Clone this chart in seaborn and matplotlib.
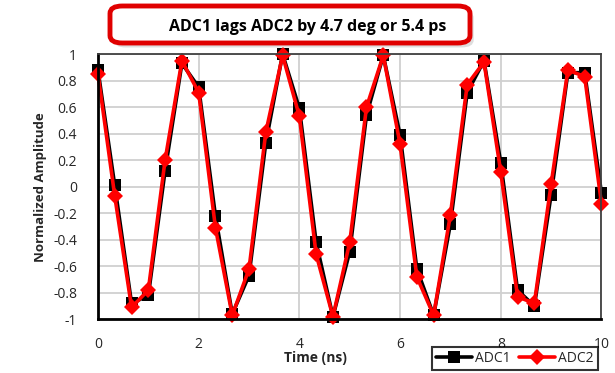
#!/usr/bin/env python3
"""Two-channel ADC sample comparison plot"""

import numpy as np
import pandas as pd
import matplotlib
matplotlib.use("Agg")
import matplotlib.pyplot as plt
from matplotlib.lines import Line2D
from matplotlib.patches import FancyBboxPatch
import seaborn as sns

# Sample times (ns), ~3 GS/s
time_ns = [0.0, 0.333, 0.667, 1.0, 1.333, 1.667, 2.0, 2.333, 2.667, 3.0,
           3.333, 3.667, 4.0, 4.333, 4.667, 5.0, 5.333, 5.667, 6.0, 6.333,
           6.667, 7.0, 7.333, 7.667, 8.0, 8.333, 8.667, 9.0, 9.333, 9.667, 10.0]

adc1 = [0.88, 0.01, -0.88, -0.82, 0.12, 0.93, 0.75, -0.22, -0.96, -0.67,
        0.33, 1.0, 0.59, -0.42, -0.98, -0.49, 0.54, 0.99, 0.39, -0.62,
        -0.97, -0.28, 0.71, 0.95, 0.18, -0.78, -0.90, -0.06, 0.86, 0.86, -0.05]

adc2 = [0.85, -0.07, -0.91, -0.78, 0.20, 0.95, 0.71, -0.31, -0.97, -0.62,
        0.41, 0.99, 0.53, -0.51, -0.98, -0.42, 0.60, 0.99, 0.32, -0.68,
        -0.97, -0.21, 0.77, 0.94, 0.11, -0.83, -0.88, 0.02, 0.88, 0.83, -0.13]

series_names = ["ADC1", "ADC2"]
series_colors = {"ADC1": "black", "ADC2": "#ff0000"}
series_markers = {"ADC1": "s", "ADC2": "D"}
series_msize = {"ADC1": 9, "ADC2": 8}

x_ticks = [0, 2, 4, 6, 8, 10]
y_ticks = [-1, -0.8, -0.6, -0.4, -0.2, 0, 0.2, 0.4, 0.6, 0.8, 1]
y_ticklabels = ["-1", "-0.8", "-0.6", "-0.4", "-0.2", "0",
                "0.2", "0.4", "0.6", "0.8", "1"]

title_text = "ADC1 lags ADC2 by 4.7 deg or 5.4 ps"

sns.set_style("white")
plt.rcParams["font.family"] = ["Open Sans", "DejaVu Sans"]

df = pd.DataFrame({
    "time": time_ns * 2,
    "amp": adc1 + adc2,
    "adc": ["ADC1"] * len(adc1) + ["ADC2"] * len(adc2),
})

fig = plt.figure(figsize=(6.15, 3.73), dpi=100)
ax = fig.add_axes([0.1593, 0.144, 0.8187, 0.711])

sns.lineplot(data=df, x="time", y="amp", hue="adc", style="adc",
             hue_order=series_names, style_order=series_names,
             palette=series_colors, markers=series_markers, dashes=False,
             linewidth=2.6, markersize=9, markeredgewidth=0,
             legend=False, ax=ax)

# diamonds a touch smaller than the squares, and let markers spill over the frame
for line in ax.get_lines():
    if line.get_marker() == "D":
        line.set_markersize(series_msize["ADC2"])
    line.set_solid_joinstyle("miter")
    line.set_clip_on(False)

ax.set_xlim(0, 10)
ax.set_ylim(-1, 1)
ax.set_xticks(x_ticks)
ax.set_yticks(y_ticks)
ax.set_yticklabels(y_ticklabels)
ax.tick_params(axis="both", length=0, labelsize=10, colors="#262626")
ax.tick_params(axis="y", pad=15)
ax.tick_params(axis="x", pad=13)
ax.grid(True, color="#d0d0d0", linewidth=1.3)
ax.set_axisbelow(True)

for side in ["left", "bottom"]:
    ax.spines[side].set_color("black")
    ax.spines[side].set_linewidth(2)
for side in ["top", "right"]:
    ax.spines[side].set_color("#404040")
    ax.spines[side].set_linewidth(1.3)

ax.set_xlabel("Time (ns)", fontsize=10, fontweight="bold")
ax.set_ylabel("Normalized Amplitude", fontsize=9.5, fontweight="bold")
ax.xaxis.set_label_coords(0.431, -0.146)
ax.yaxis.set_label_coords(-0.115, 0.5)
ax.xaxis.label.set_verticalalignment("center")
ax.yaxis.label.set_verticalalignment("center")

# Legend at the bottom right, partly off the figure
handles = [Line2D([], [], color=series_colors[n], marker=series_markers[n],
                  linewidth=2.6, markersize=series_msize[n],
                  markeredgewidth=0) for n in series_names]
leg = fig.legend(handles, series_names, loc="upper left",
                 bbox_to_anchor=(432 / 615, 26 / 373), ncol=2, fontsize=10,
                 frameon=True, fancybox=False, handlelength=2.6,
                 handletextpad=0.2, columnspacing=0.6, borderpad=0.3,
                 borderaxespad=0)
leg.get_frame().set_edgecolor("black")
leg.get_frame().set_linewidth(1.5)

# Title box with shadow
bx, by, bw, bh = 110 / 615, 330 / 373, 360 / 615, 37 / 373
shadow = FancyBboxPatch((bx + 0.006, by - 0.012), bw, bh,
                        boxstyle="round,pad=0,rounding_size=0.02",
                        transform=fig.transFigure, fc="#c8c8c8", ec="none",
                        alpha=0.6, zorder=1)
box = FancyBboxPatch((bx, by), bw, bh,
                     boxstyle="round,pad=0,rounding_size=0.02",
                     transform=fig.transFigure, fc="white", ec="#e00000",
                     lw=3.5, zorder=2)
fig.patches.extend([shadow, box])
fig.text(308 / 615, (373 - 27) / 373, title_text, ha="center", va="center",
         fontsize=11.5, fontweight="bold", color="black", zorder=3)

fig.savefig("out.png", dpi=100)
